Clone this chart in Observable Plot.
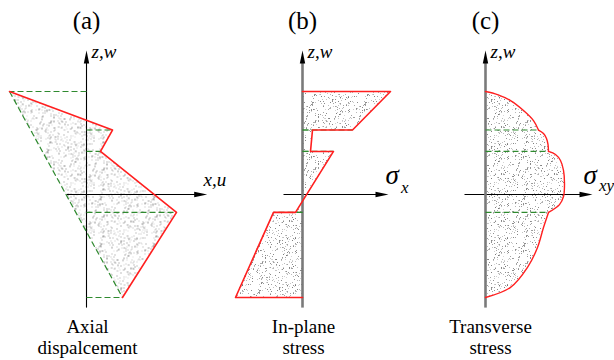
<!DOCTYPE html>
<html><head><meta charset="utf-8">
<script src="https://cdn.jsdelivr.net/npm/d3@7"></script>
<script src="https://cdn.jsdelivr.net/npm/@observablehq/plot@0.6"></script>
<style>
html,body{margin:0;padding:0;background:#fff;}
#wrap{position:relative;width:614px;height:360px;overflow:hidden;}
</style></head><body>
<svg width="0" height="0" style="position:absolute"><defs id="defs"></defs></svg>
<div id="wrap"></div>
<script>
// ---- data ----
// layer interfaces (normalized thickness coordinate z, top to bottom)
const interfaces = [0.5, 0.313, 0.209, -0.087, -0.5];
// (a) axial displacement u at each interface (zig-zag); straight reference line joins the ends
const uA = [-0.77, 0.26, 0.14, 0.90, 0.36];
// (b) in-plane stress: value at top and bottom of each layer
const sigTop = [0.88, 0.10, 0.31, -0.29];
const sigBot = [0.50, 0.08, -0.07, -0.67];
// (c) transverse stress samples per layer
const tauZ = [
  [0.5, 0.485, 0.456, 0.408, 0.359, 0.313],
  [0.313, 0.296, 0.272, 0.243, 0.209],
  [0.209, 0.194, 0.165, 0.117, 0.053, -0.010, -0.049, -0.087],
  [-0.087, -0.160, -0.257, -0.354, -0.451, -0.5]
];
const tauV = [
  [0, 0.12, 0.25, 0.38, 0.48, 0.53],
  [0.53, 0.58, 0.61, 0.625, 0.63],
  [0.63, 0.70, 0.75, 0.78, 0.79, 0.78, 0.74, 0.63],
  [0.63, 0.58, 0.52, 0.42, 0.25, 0]
];
// axis extents
const vAxis = [-0.549, 0.699];
const hAxisA = [-0.2, 1.207];
const hAxisB = [-0.19, 0.86];
const hAxisC = [-0.21, 1.07];
const titles = ["(a)", "(b)", "(c)"];
const captions = ["Axial\ndispalcement", "In-plane\nstress", "Transverse\nstress"];

// ---- styles ----
const SERIF = "Liberation Serif";
const RED = "#ff1f1f", GREEN = "#2f8a2f";

// stipple texture (deterministic)
(function(){
  const ns = "http://www.w3.org/2000/svg";
  const p = document.createElementNS(ns, "pattern");
  p.setAttribute("id", "stip"); p.setAttribute("patternUnits", "userSpaceOnUse");
  p.setAttribute("width", 53); p.setAttribute("height", 47);
  let s = 12345; const r = () => (s = (s * 16807) % 2147483647) / 2147483647;
  for (let i = 0; i < 330; i++) {
    const c = document.createElementNS(ns, "rect");
    c.setAttribute("x", Math.floor(r() * 53)); c.setAttribute("y", Math.floor(r() * 47));
    c.setAttribute("width", 1); c.setAttribute("height", 1);
    c.setAttribute("fill", "#666"); c.setAttribute("fill-opacity", (0.25 + r() * 0.55).toFixed(2));
    p.appendChild(c);
  }
  document.getElementById("defs").appendChild(p);
})();

const head = {draw(ctx) { ctx.moveTo(0, 0); ctx.lineTo(2.7, 13); ctx.lineTo(-2.7, 13); ctx.closePath(); }};

function axes(h, vColor, vWidth) {
  return [
    Plot.link([0], {x1: h[0], x2: h[1] - 0.05, y1: 0, y2: 0, stroke: "black", strokeWidth: 1.1}),
    Plot.link([0], {x1: 0, x2: 0, y1: vAxis[0], y2: vAxis[1] - 0.05, stroke: vColor, strokeWidth: vWidth}),
    Plot.dot([0], {x: h[1], y: 0, symbol: head, rotate: 90, fill: "black", stroke: "none"}),
    Plot.dot([0], {x: 0, y: vAxis[1], symbol: head, fill: "black", stroke: "none"})
  ];
}
function labels(i, dxCap) {
  return [
    Plot.text([titles[i]], {x: 0, y: 0.84, text: d => d, fontSize: 25, fontFamily: SERIF, lineAnchor: "middle", fill: "black"}),
    Plot.text([captions[i]], {x: 0, y: -0.605, dx: dxCap, text: d => d, fontSize: 19, fontFamily: SERIF, lineAnchor: "top", lineHeight: 1.06, fill: "black"}),
    Plot.text(["z,w"], {x: 0, y: 0.692, dx: 5, text: d => d, fontSize: 19, fontFamily: SERIF, fontStyle: "italic", textAnchor: "start", lineAnchor: "middle", fill: "black"})
  ];
}
function make(axisX, marks) {
  const svg = Plot.plot({
    width: 614, height: 360, margin: 0,
    x: {domain: [-1, 1], range: [axisX - 100, axisX + 100], axis: null},
    y: {domain: [-0.5, 0.5], range: [297, 91], axis: null},
    style: {background: "transparent", overflow: "visible"},
    marks
  });
  svg.style.position = "absolute"; svg.style.left = "0"; svg.style.top = "0";
  document.getElementById("wrap").appendChild(svg);
}

// ---- panel (a) ----
const ptsA = interfaces.map((z, i) => ({z, u: uA[i]}));
make(86, [
  Plot.line(ptsA, {x: "u", y: "z", fill: "url(#stip)", stroke: "none"}),
  ...axes(hAxisA, "black", 1.1),
  Plot.link(ptsA, {x1: 0, x2: "u", y1: "z", y2: "z", stroke: GREEN, strokeWidth: 1.2, strokeDasharray: "6,3"}),
  Plot.link([0], {x1: uA[0], y1: interfaces[0], x2: uA[4], y2: interfaces[4], stroke: GREEN, strokeWidth: 1.2, strokeDasharray: "6,3"}),
  Plot.line(ptsA, {x: "u", y: "z", stroke: RED, strokeWidth: 1.6}),
  Plot.text(["x,u"], {x: 1.17, y: 0.07, text: d => d, fontSize: 19, fontFamily: SERIF, fontStyle: "italic", textAnchor: "start", lineAnchor: "middle"}),
  ...labels(0, 1)
]);

// ---- panel (b) ----
const areaB = [];
sigTop.forEach((v, i) => { areaB.push({layer: i, z: interfaces[i], s: v}); areaB.push({layer: i, z: interfaces[i + 1], s: sigBot[i]}); });
const outlineB = [{z: interfaces[0], s: 0}, ...areaB, {z: interfaces[4], s: 0}];
const greenB = [];
for (let i = 1; i < 4; i++) { greenB.push({z: interfaces[i], s: sigBot[i - 1]}); greenB.push({z: interfaces[i], s: sigTop[i]}); }
make(302, [
  Plot.areaX(areaB, {y: "z", x1: 0, x2: "s", z: "layer", fill: "url(#stip)"}),
  ...axes(hAxisB, "#7a7a7a", 2.6),
  Plot.link(greenB, {x1: 0, x2: "s", y1: "z", y2: "z", stroke: GREEN, strokeWidth: 1.2, strokeDasharray: "6,3"}),
  Plot.line(outlineB, {x: "s", y: "z", stroke: RED, strokeWidth: 1.6}),
  Plot.text(["σ"], {x: 0.83, y: 0.091, text: d => d, fontSize: 27, fontFamily: SERIF, fontStyle: "italic", textAnchor: "start", lineAnchor: "middle"}),
  Plot.text(["x"], {x: 0.985, y: 0.036, text: d => d, fontSize: 17, fontFamily: SERIF, fontStyle: "italic", textAnchor: "start", lineAnchor: "middle"}),
  ...labels(1, 1)
]);

// ---- panel (c) ----
const ptsC = [];
tauZ.forEach((zs, i) => zs.forEach((z, j) => ptsC.push({layer: i, z, t: tauV[i][j]})));
const greenC = interfaces.slice(1, 4).map((z, i) => ({z, t: tauV[i + 1][0]}));
make(485, [
  Plot.areaX(ptsC, {y: "z", x1: 0, x2: "t", z: "layer", fill: "url(#stip)", curve: "catmull-rom"}),
  ...axes(hAxisC, "#7a7a7a", 2.6),
  Plot.link(greenC, {x1: 0, x2: "t", y1: "z", y2: "z", stroke: GREEN, strokeWidth: 1.2, strokeDasharray: "6,3"}),
  Plot.line(ptsC, {x: "t", y: "z", z: "layer", stroke: RED, strokeWidth: 1.4, curve: "catmull-rom"}),
  Plot.text(["σ"], {x: 0.98, y: 0.091, text: d => d, fontSize: 27, fontFamily: SERIF, fontStyle: "italic", textAnchor: "start", lineAnchor: "middle"}),
  Plot.text(["xy"], {x: 1.135, y: 0.042, text: d => d, fontSize: 17, fontFamily: SERIF, fontStyle: "italic", textAnchor: "start", lineAnchor: "middle"}),
  ...labels(2, 5)
]);
</script>
</body></html>
